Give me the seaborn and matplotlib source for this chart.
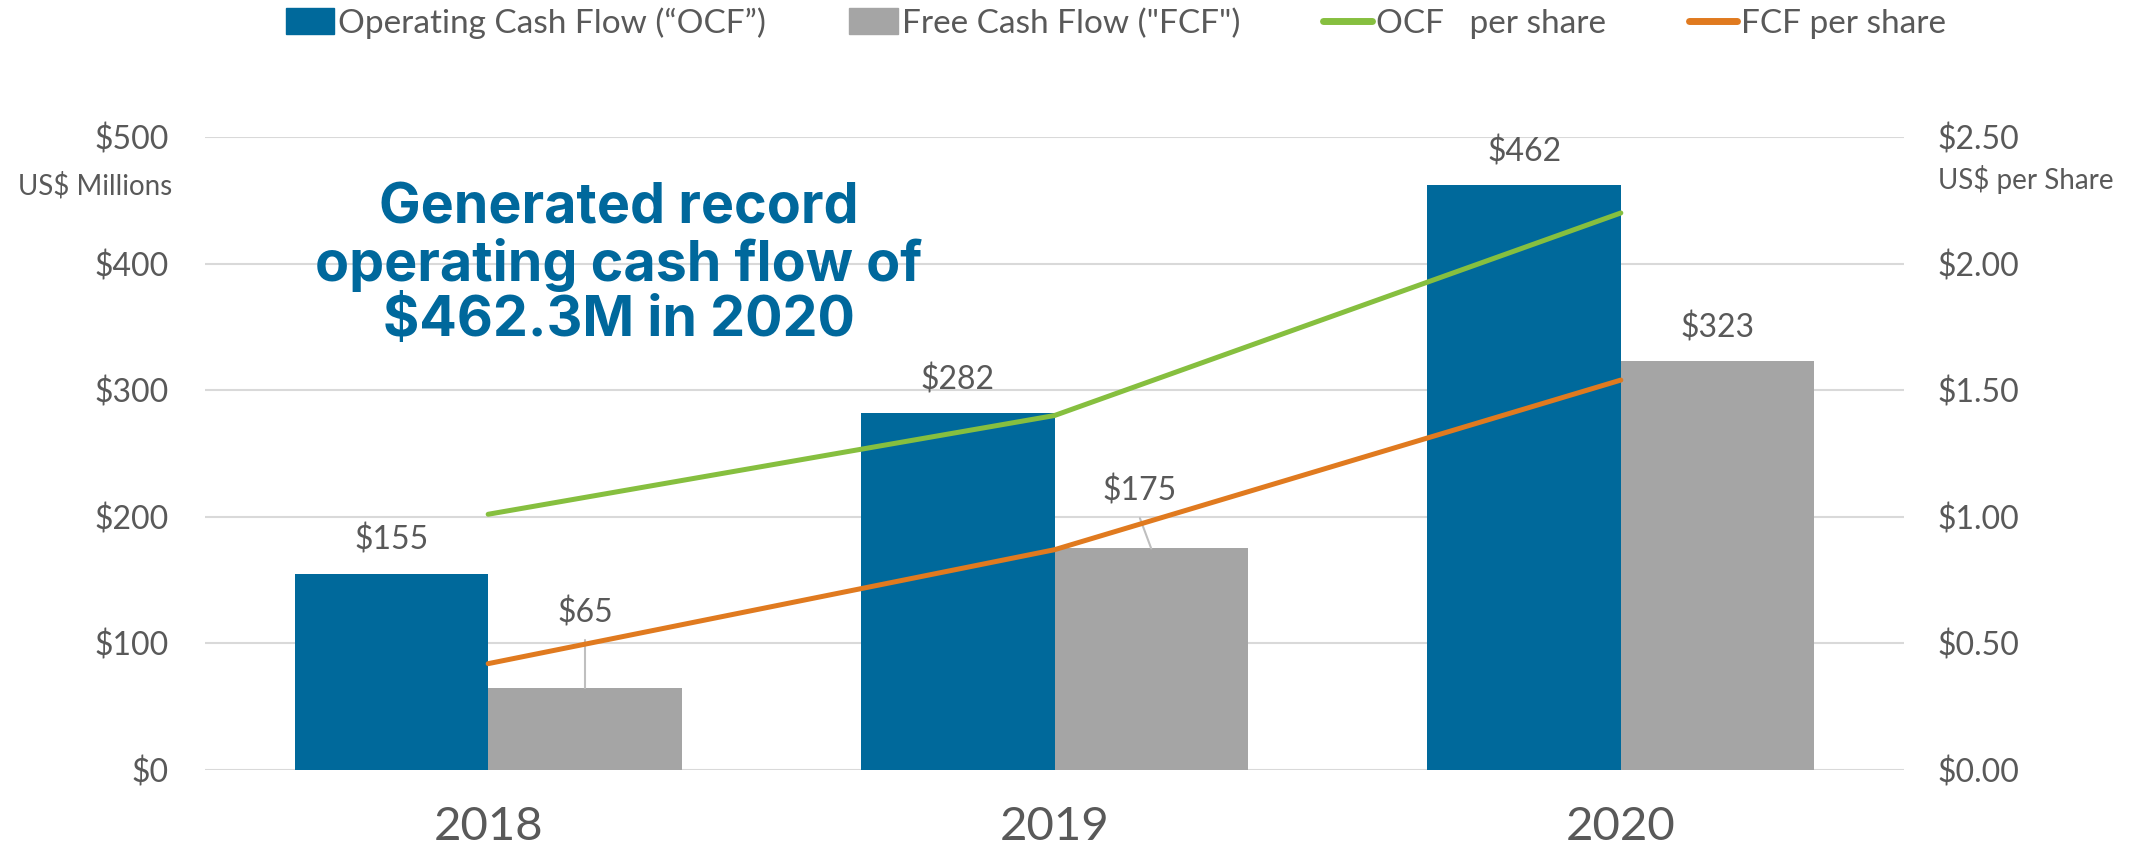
import pandas as pd
import matplotlib
matplotlib.use('Agg')
import matplotlib.pyplot as plt
import seaborn as sns
from matplotlib.patches import Patch
from matplotlib.lines import Line2D

# 데이터
years = ['2018', '2019', '2020']
ocf = [155, 282, 462]          # Operating Cash Flow (US$ M)
fcf = [65, 175, 323]           # Free Cash Flow (US$ M)
ocf_ps = [1.01, 1.40, 2.20]    # OCF per share
fcf_ps = [0.42, 0.87, 1.54]    # FCF per share
series = ['Operating Cash Flow (\u201cOCF\u201d)', 'Free Cash Flow ("FCF")']
line_names = ['OCF   per share', 'FCF per share']

BLUE = '#00699B'
GRAY = '#A5A5A5'
GREEN = '#86BF3F'
ORANGE = '#E07A1F'
TXT = '#595959'

sns.set_style('white')
plt.rcParams['font.family'] = ['Lato', 'DejaVu Sans']

df = pd.DataFrame({
    'year': years * 2,
    'value': ocf + fcf,
    'series': [series[0]] * 3 + [series[1]] * 3,
})

fig = plt.figure(figsize=(21.48, 8.49), dpi=100)
ax = fig.add_axes([205 / 2148, 1 - 770 / 849, 1699 / 2148, 633 / 849])

sns.barplot(data=df, x='year', y='value', hue='series', palette=[BLUE, GRAY],
            saturation=1, width=0.683, gap=0, legend=False, ax=ax, linewidth=0)

ax.set_xlim(-0.5, 2.5)
ax.set_ylim(0, 500)
ax.set_yticks(range(0, 501, 100))
ax.set_yticklabels(['${}'.format(v) for v in range(0, 501, 100)])
ax.grid(axis='y', color='#D9D9D9', lw=1.5)
ax.set_axisbelow(True)
ax.set_xlabel('')
ax.set_ylabel('')
ax.tick_params(axis='y', length=0, labelsize=23, labelcolor=TXT, pad=26)
ax.tick_params(axis='x', length=0, labelsize=34, labelcolor=TXT, pad=26)
for s in ax.spines.values():
    s.set_visible(False)

# 막대 라벨
off = 0.683 / 4
for i in range(3):
    ax.annotate('${}'.format(ocf[i]), (i - off, ocf[i]), xytext=(0, 24),
                textcoords='offset points', ha='center', va='center',
                fontsize=23, color=TXT)
# FCF 라벨 (2018, 2019 는 지시선 있음)
ax.annotate('$65', (0 + off, 65), xytext=(0 + off, 124), ha='center', va='center',
            fontsize=23, color=TXT)
ax.plot([0 + off, 0 + off], [65, 103], color='#BFBFBF', lw=1.5, zorder=3)
ax.annotate('$175', (1 + off, 175), xytext=(1 + off - 0.02, 220), ha='center',
            va='center', fontsize=23, color=TXT)
ax.plot([1 + off - 0.02, 1 + off], [199, 175], color='#BFBFBF', lw=1.5, zorder=3)
ax.annotate('${}'.format(fcf[2]), (2 + off, fcf[2]), xytext=(0, 24),
            textcoords='offset points', ha='center', va='center',
            fontsize=23, color=TXT)

# 주당 현금흐름 (오른쪽 축)
ax2 = ax.twinx()
sns.lineplot(x=[0, 1, 2], y=ocf_ps, color=GREEN, lw=3.6, ax=ax2)
sns.lineplot(x=[0, 1, 2], y=fcf_ps, color=ORANGE, lw=3.6, ax=ax2)
ax2.set_ylim(0, 2.5)
ax2.set_xlim(-0.5, 2.5)
ax2.set_yticks([0, 0.5, 1.0, 1.5, 2.0, 2.5])
ax2.set_yticklabels(['${:.2f}'.format(v) for v in [0, 0.5, 1.0, 1.5, 2.0, 2.5]])
ax2.tick_params(axis='y', length=0, labelsize=23, labelcolor=TXT, pad=24)
ax2.grid(False)
for s in ax2.spines.values():
    s.set_visible(False)

fig.text(172 / 2148, 1 - 186 / 849, 'US$ Millions', ha='right', va='center',
         fontsize=20, color=TXT)
fig.text(1938 / 2148, 1 - 180 / 849, 'US$ per Share', ha='left', va='center',
         fontsize=20, color=TXT)

fig.text(619 / 2148, 1 - 265 / 849,
         'Generated record\noperating cash flow of\n$462.3M in 2020',
         ha='center', va='center', fontsize=40, fontweight='bold',
         color='#00689C', family=['Inter', 'DejaVu Sans'], linespacing=1.08)

handles = [Patch(color=BLUE), Patch(color=GRAY),
           Line2D([], [], color=GREEN, lw=5, solid_capstyle='round'),
           Line2D([], [], color=ORANGE, lw=5, solid_capstyle='round')]
fig.legend(handles, series + line_names, loc='center', ncol=4,
           bbox_to_anchor=(0.5196, 1 - 23 / 849), frameon=False,
           fontsize=24, labelcolor=TXT, handlelength=1.45, handleheight=0.8,
           handletextpad=0.12, columnspacing=2.5)

fig.savefig('out.png', dpi=100)
